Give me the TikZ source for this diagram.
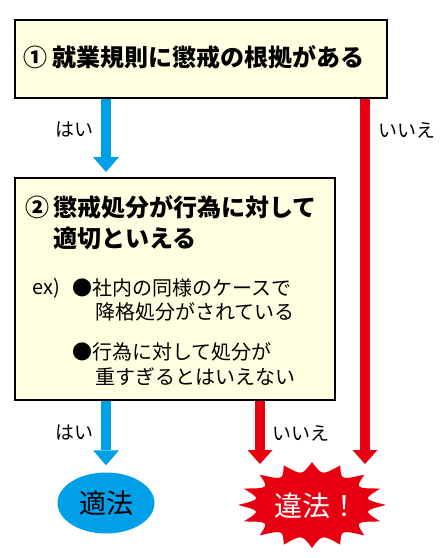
\documentclass[tikz,border=0pt]{standalone}
\usepackage{fontspec}
\setmainfont{Noto Sans CJK JP}
\usetikzlibrary{arrows.meta,shapes.geometric}
\definecolor{okblue}{RGB}{0,160,233}
\definecolor{ngred}{RGB}{230,0,18}
\definecolor{boxfill}{RGB}{255,254,224}

\begin{document}
\begin{tikzpicture}[
    x=1pt, y=-1pt,
    box_style/.style={draw=black, line width=2pt, fill=boxfill, inner sep=0pt, anchor=north west},
    head_style/.style={font=\fontsize{24}{30}\selectfont\bfseries, anchor=west, inner sep=0pt},
    body_style/.style={font=\fontsize{20}{24}\selectfont, anchor=west, inner sep=0pt},
    label_style/.style={font=\fontsize{19}{24}\selectfont, inner sep=0pt},
    yes_arrow/.style={okblue, line width=10.5pt, -{Triangle[width=26pt, length=15pt, line width=0pt]}},
    no_arrow/.style={ngred, line width=10pt, -{Triangle[width=25pt, length=14pt, line width=0pt]}}
]
    \useasboundingbox (0,0) rectangle (448,558);

    % --- results ---
    \node[ellipse, fill=okblue, minimum width=97pt, minimum height=61pt, inner sep=0pt,
          font=\fontsize{27}{30}\selectfont] (ok) at (106,503) {適法};

    \coordinate (burst) at (312,505);
    % spiky burst: tips on an ellipse, concave edges between them
    \fill[ngred] ({312+74},505)
        \foreach \k in {1,...,16} {
            .. controls ({312+52*cos(\k*360/16-180/16)},{505+30*sin(\k*360/16-180/16)})
            .. ({312+74*cos(\k*360/16)},{505+43*sin(\k*360/16)})
        } -- cycle;
    \node[text=white, font=\fontsize{28}{30}\selectfont, inner sep=0pt] (ng) at (316,506) {違法！};

    \coordinate (no1_end) at (365,464);
    \coordinate (no2_end) at (260,464);

    % --- question boxes ---
    \node[box_style, minimum width=372pt, minimum height=78pt] (q1) at (14,19) {};
    \node[box_style, minimum width=320pt, minimum height=222pt] (q2) at (14,177) {};

    % --- arrows ---
    \draw[yes_arrow, shorten >=5pt] (q1.south -| ok.north) -- (q2.north -| ok.north);
    \draw[yes_arrow, shorten >=7pt] (q2.south -| ok.north) -- (ok.north);
    \draw[no_arrow] (q1.south -| no1_end) -- (no1_end);
    \draw[no_arrow] (q2.south -| no2_end) -- (no2_end);

    \node[label_style] (yes1) at (75,130) {はい};
    \node[label_style] (no1) at (407,130) {いいえ};
    \node[label_style] (yes2) at (75,433) {はい};
    \node[label_style] (no2) at (301,433) {いいえ};

    % --- texts in the boxes ---
    \node[head_style] (q1_text) at (23,57) {① 就業規則に懲戒の根拠がある};

    \node[head_style] (q2_num) at (25,207) {②};
    \node[head_style] (q2_l1) at (53,207) {懲戒処分が行為に対して};
    \node[head_style] (q2_l2) at (53,238) {適切といえる};

    \node[body_style] (ex) at (32,288) {ex)};
    \node[body_style] (ex1_l1) at (72,288) {●社内の同様のケースで};
    \node[body_style] (ex1_l2) at (95,312) {降格処分がされている};
    \node[body_style] (ex2_l1) at (72,352) {●行為に対して処分が};
    \node[body_style] (ex2_l2) at (95,377) {重すぎるとはいえない};

\end{tikzpicture}
\end{document}
